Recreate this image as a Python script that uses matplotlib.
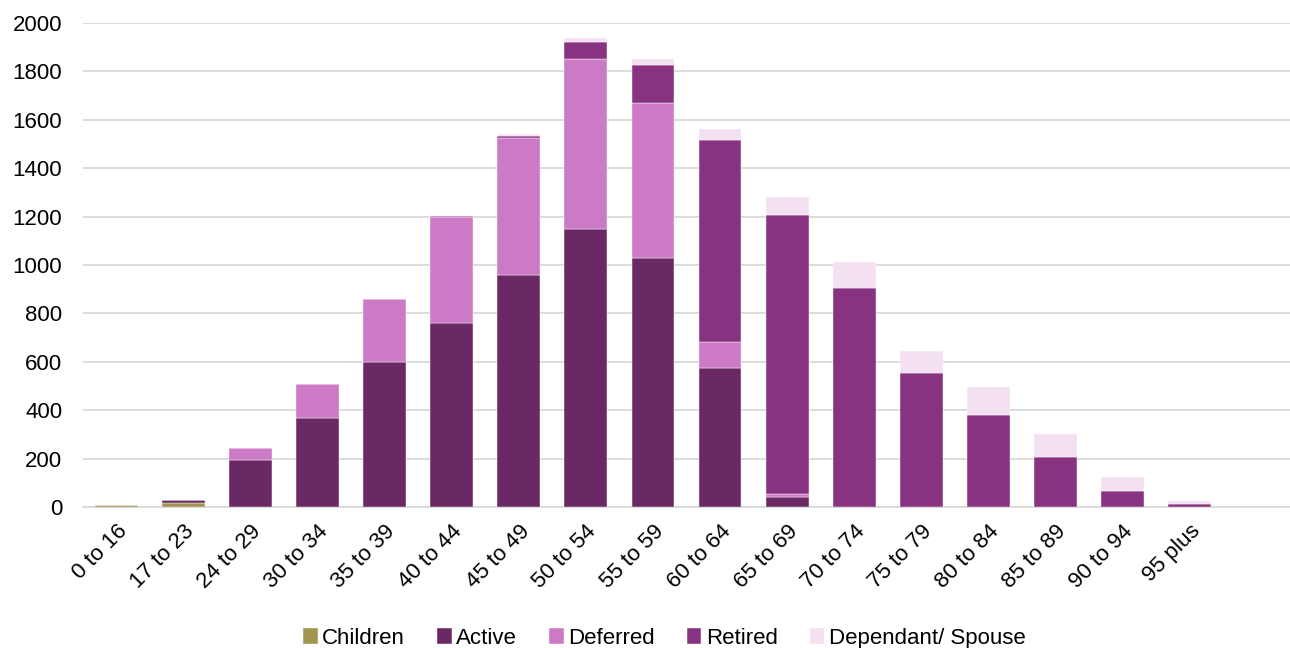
import matplotlib
matplotlib.use("Agg")
import matplotlib.pyplot as plt
import numpy as np

plt.rcParams['font.family'] = ['Liberation Sans', 'DejaVu Sans']

age_bands = ["0 to 16", "17 to 23", "24 to 29", "30 to 34", "35 to 39", "40 to 44",
             "45 to 49", "50 to 54", "55 to 59", "60 to 64", "65 to 69", "70 to 74",
             "75 to 79", "80 to 84", "85 to 89", "90 to 94", "95 plus"]

children  = [8, 16, 0, 0, 0, 0, 0, 0, 0, 0, 0, 0, 0, 0, 0, 0, 0]
active    = [0, 11, 195, 368, 598, 760, 958, 1148, 1029, 575, 43, 0, 0, 0, 0, 0, 0]
deferred  = [0, 0, 50, 140, 263, 437, 567, 702, 640, 106, 12, 0, 0, 0, 0, 0, 0]
retired   = [0, 0, 0, 0, 0, 5, 10, 72, 157, 835, 1151, 905, 553, 380, 205, 67, 11]
dependant = [0, 0, 0, 0, 0, 0, 8, 16, 27, 46, 74, 106, 92, 114, 97, 58, 15]

series = [
    ("Children", children, "#A09450"),
    ("Active", active, "#6A2965"),
    ("Deferred", deferred, "#CC7AC6"),
    ("Retired", retired, "#883382"),
    ("Dependant/ Spouse", dependant, "#F3E0F1"),
]

fig = plt.figure(figsize=(12.9, 6.48), dpi=100)
ax = fig.add_axes([83 / 1290, 1 - 507 / 648, 1 - 83 / 1290, (507 - 23) / 648])

x = np.arange(len(age_bands))
bottom = np.zeros(len(age_bands))
for name, vals, color in series:
    vals = np.array(vals, dtype=float)
    ax.bar(x, vals, width=0.64, bottom=bottom, color=color, label=name,
           edgecolor="white", linewidth=0.3, zorder=3)
    bottom += vals

ax.set_xlim(-0.5, len(age_bands) + 0.5)
ax.set_ylim(0, 2000)
ax.set_yticks(np.arange(0, 2001, 200))
ax.yaxis.grid(True, color="#D9D9D9", linewidth=1.3, zorder=0)
ax.set_axisbelow(True)
for s in ["top", "right", "left"]:
    ax.spines[s].set_visible(False)
ax.spines["bottom"].set_color("#D9D9D9")
ax.spines["bottom"].set_linewidth(1.3)
ax.tick_params(axis="both", length=0, labelsize=16, colors="black")
ax.tick_params(axis="y", pad=15)
ax.set_xticks(x)
ax.set_xticklabels(age_bands, rotation=45, ha="right", rotation_mode="anchor")
ax.tick_params(axis="x", pad=10)

fig.legend(loc="lower center", bbox_to_anchor=(0.515, -0.032), ncol=5, frameon=False,
           fontsize=16, handlelength=0.65, handleheight=0.75, handletextpad=0.2,
           columnspacing=1.45)

fig.savefig("out.png", dpi=100)
